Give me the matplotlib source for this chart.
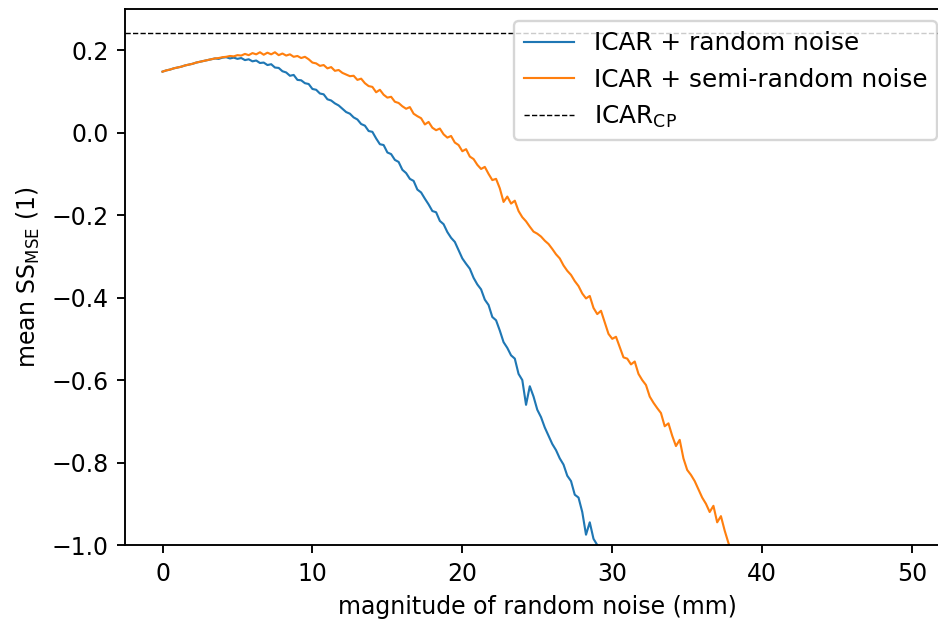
import numpy as np
import matplotlib
matplotlib.use("Agg")
import matplotlib.pyplot as plt

# skill score vs. magnitude of added noise (mm), sampled every 0.25 mm
step = 0.25

ss_random = [
    0.148, 0.151, 0.153, 0.156, 0.158, 0.160, 0.163, 0.165, 0.167, 0.170, 0.172, 0.174, 0.176, 0.178, 0.180, 0.179, 0.182,
    0.183, 0.180, 0.182, 0.179, 0.181, 0.176, 0.178, 0.173, 0.175, 0.169, 0.170, 0.164, 0.166, 0.158, 0.157, 0.149,
    0.146, 0.138, 0.140, 0.128, 0.127, 0.120, 0.118, 0.106, 0.104, 0.095, 0.093, 0.081, 0.078, 0.071, 0.066, 0.058,
    0.050, 0.046, 0.037, 0.032, 0.021, 0.017, 0.004, 0.002, -0.014, -0.028, -0.030, -0.048, -0.052, -0.066, -0.071, -0.090,
    -0.098, -0.112, -0.117, -0.138, -0.145, -0.160, -0.174, -0.190, -0.193, -0.214, -0.222, -0.241, -0.255, -0.265, -0.285, -0.305,
    -0.318, -0.330, -0.352, -0.368, -0.380, -0.405, -0.418, -0.447, -0.455, -0.480, -0.508, -0.522, -0.540, -0.548, -0.585, -0.600,
    -0.660, -0.615, -0.640, -0.672, -0.690, -0.715, -0.735, -0.755, -0.770, -0.790, -0.805, -0.832, -0.845, -0.878, -0.885, -0.920,
    -0.975, -0.945, -0.985, -1.000, -1.020,
]

ss_semi = [
    0.148, 0.151, 0.153, 0.156, 0.158, 0.160, 0.163, 0.165, 0.167, 0.170, 0.172, 0.174, 0.176, 0.178, 0.180, 0.181, 0.183,
    0.184, 0.186, 0.185, 0.188, 0.187, 0.191, 0.188, 0.193, 0.190, 0.195, 0.189, 0.194, 0.190, 0.195, 0.188, 0.192,
    0.187, 0.190, 0.184, 0.186, 0.181, 0.184, 0.178, 0.170, 0.168, 0.162, 0.164, 0.156, 0.159, 0.150, 0.152, 0.145,
    0.141, 0.137, 0.138, 0.128, 0.131, 0.120, 0.113, 0.111, 0.098, 0.104, 0.092, 0.085, 0.087, 0.075, 0.072, 0.064,
    0.058, 0.062, 0.046, 0.040, 0.035, 0.020, 0.026, 0.012, 0.006, 0.010, -0.004, -0.012, -0.008, -0.024, -0.030, -0.045,
    -0.040, -0.058, -0.064, -0.078, -0.088, -0.083, -0.100, -0.115, -0.112, -0.135, -0.168, -0.155, -0.172, -0.165, -0.190, -0.205,
    -0.215, -0.228, -0.240, -0.245, -0.252, -0.262, -0.270, -0.282, -0.295, -0.305, -0.322, -0.335, -0.345, -0.360, -0.372, -0.390,
    -0.402, -0.396, -0.425, -0.440, -0.432, -0.460, -0.488, -0.500, -0.495, -0.520, -0.545, -0.548, -0.562, -0.555, -0.585, -0.600,
    -0.612, -0.640, -0.655, -0.668, -0.680, -0.712, -0.705, -0.735, -0.760, -0.745, -0.790, -0.818, -0.830, -0.845, -0.865, -0.885,
    -0.900, -0.920, -0.905, -0.945, -0.930, -0.965, -0.995, -1.020,
]

ss_icar_cp = 0.241

mag_random = np.arange(len(ss_random)) * step
mag_semi = np.arange(len(ss_semi)) * step

# original looks like a small figure saved at high dpi
dpi = 170
fig = plt.figure(figsize=(938 / dpi, 623 / dpi), dpi=dpi)
ax = fig.add_axes([0.1333, 0.1252, 0.879, 0.8604])

ax.plot(mag_random, ss_random, color='tab:blue', lw=0.9, label='ICAR + random noise')
ax.plot(mag_semi, ss_semi, color='tab:orange', lw=0.9, label='ICAR + semi-random noise')
ax.axhline(ss_icar_cp, color='black', ls='--', lw=0.6, label=r'ICAR$_{\mathrm{CP}}$')

ax.set_xlim(-2.5, 52.5)
ax.set_ylim(-1.0, 0.3)
ax.set_yticks([-1.0, -0.8, -0.6, -0.4, -0.2, 0.0, 0.2])
ax.set_xticks([0, 10, 20, 30, 40, 50])
ax.set_xlabel('magnitude of random noise (mm)')
ax.set_ylabel(r'mean SS$_{\mathrm{MSE}}$ (1)')

ax.legend(loc='upper right', fontsize=10.5)

fig.savefig('out.png', dpi=dpi)
